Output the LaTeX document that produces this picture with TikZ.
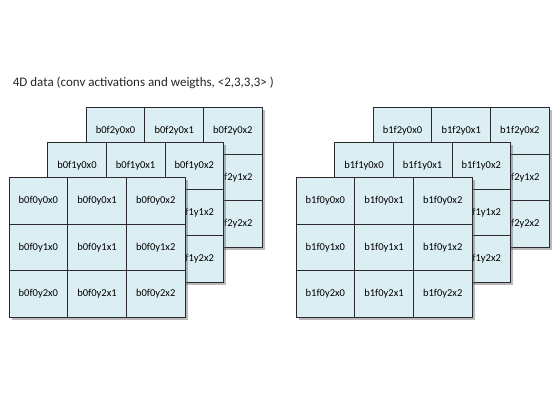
\documentclass[tikz,border=0pt]{standalone}
\usepackage{fontspec}
\setmainfont{Carlito}
\usetikzlibrary{shadows}
\definecolor{cellfill}{HTML}{DBEEF3}
\definecolor{cellline}{HTML}{2A2A2A}
\tikzset{
  cell/.style={draw=cellline, line width=0.8pt, fill=cellfill, minimum width=58.67pt, minimum height=46.67pt, inner sep=0pt, font=\fontsize{10.5}{12}\selectfont, text=black},
  layer/.style={fill=cellfill, draw=cellline, line width=0.8pt, drop shadow={shadow xshift=2.5pt, shadow yshift=-2.5pt, opacity=0.45, fill=black!60}},
  title/.style={anchor=base west, inner sep=0pt, font=\fontsize{13}{15}\selectfont, text=black!85}
}
\begin{document}
\begin{tikzpicture}[x=1pt,y=-1pt]
\useasboundingbox (0,0) rectangle (560,400);
\fill[white] (0,0) rectangle (560,400);
\node[title] (title) at (12.7,86.5) {4D data (conv activations and weigths, <2,3,3,3> )};
\foreach \nb/\bx in {0/0,1/287}{
  \foreach \nf in {2,1,0}{
    \pgfmathsetmacro{\xo}{9+\bx+\nf*38.6}
    \pgfmathsetmacro{\yo}{177.3-\nf*34.9}
    \path[layer] (\xo,\yo) rectangle ++(176,140);
    \foreach \ny in {0,1,2}{
      \foreach \nx in {0,1,2}{
        \node[cell] (b\nb f\nf y\ny x\nx) at (\xo+\nx*58.67+29.33, \yo+\ny*46.67+23.33) {b\nb f\nf y\ny x\nx};
      }
    }
  }
}
\end{tikzpicture}
\end{document}
